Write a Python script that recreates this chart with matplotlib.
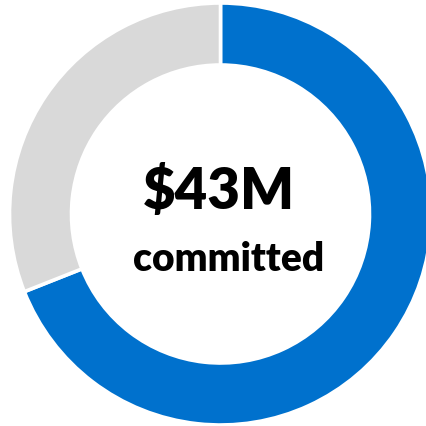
import matplotlib
matplotlib.use("Agg")
import matplotlib.pyplot as plt

# Share of the total that is committed vs. still open
labels = ["Committed", "Remaining"]
shares = [69, 31]
colors = ["#0071CD", "#D9D9D9"]
headline = "$43M"
subline = "committed"

W, H = 426, 427
fig = plt.figure(figsize=(W / 100, H / 100), dpi=100)
ax = fig.add_axes([0, 0, 1, 1])

outer_r = 211
ring_w = 62
ax.pie(
    shares,
    colors=colors,
    startangle=90,
    counterclock=False,
    center=(220.5, 212),
    radius=outer_r,
    frame=True,
    wedgeprops=dict(width=ring_w, edgecolor="white", linewidth=2.6),
)
ax.set_xlim(0, W)
ax.set_ylim(0, H)
ax.set_aspect("equal")
ax.axis("off")

ax.text(219, 218, headline, ha="center", va="baseline",
        fontsize=40.5, fontweight="heavy", family="Lato", color="black")
ax.text(228.5, 156, subline, ha="center", va="baseline",
        fontsize=28, fontweight="heavy", family="Lato", color="black")

fig.savefig("out.png", dpi=100)
